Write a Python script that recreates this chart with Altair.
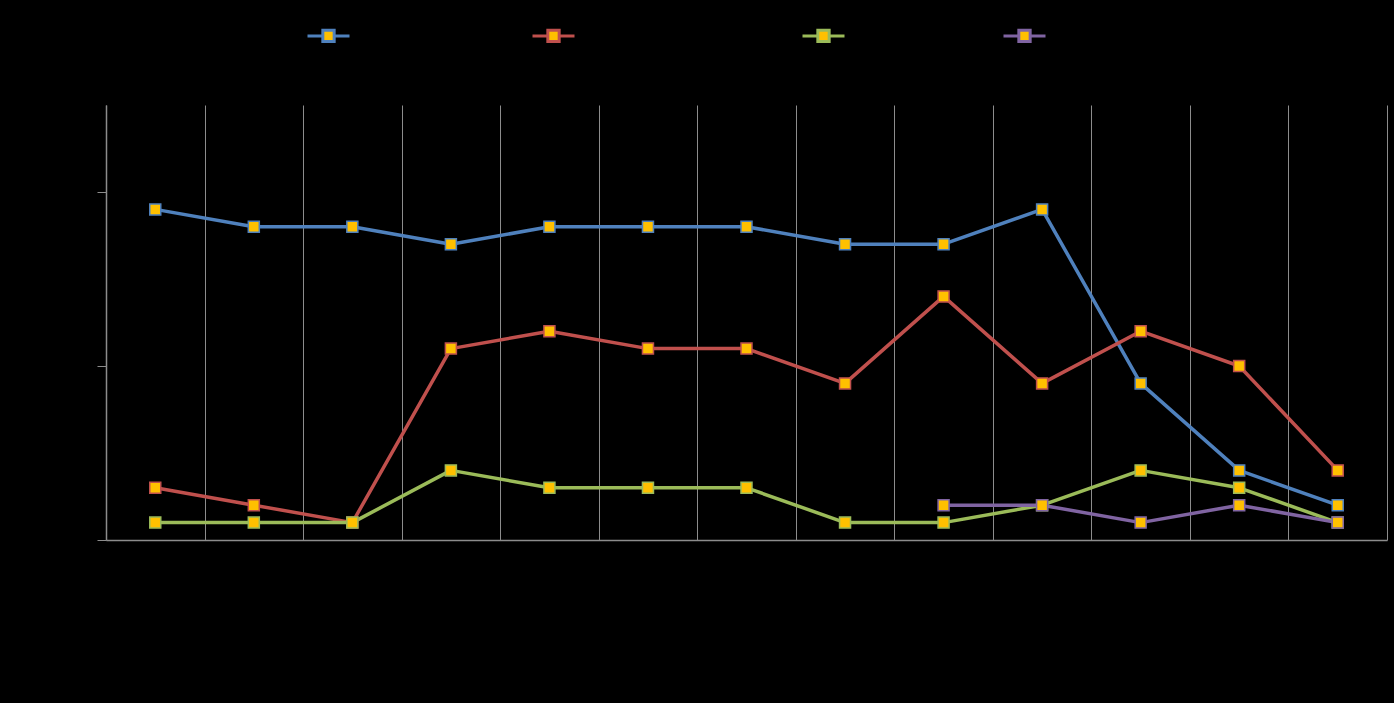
import altair as alt
import pandas as pd

categories = ["P01", "P02", "P03", "P04", "P05", "P06", "P07",
              "P08", "P09", "P10", "P11", "P12", "P13"]
series_names = ["Series 1 label text A", "Series two, label text long",
                "Series three text.", "Series four"]
blue = [19, 18, 18, 17, 18, 18, 18, 17, 17, 19, 9, 4, 2]
red = [3, 2, 1, 11, 12, 11, 11, 9, 14, 9, 12, 10, 4]
green = [1, 1, 1, 4, 3, 3, 3, 1, 1, 2, 4, 3, 1]
purple = [None, None, None, None, None, None, None, None, 2, 2, 1, 2, 1]
colors = ["#4F81BD", "#C0504D", "#9BBB59", "#8064A2"]

rows = []
for name, vals in zip(series_names, [blue, red, green, purple]):
    for c, v in zip(categories, vals):
        if v is not None:
            rows.append({"cat": c, "series": name, "value": v})
df = pd.DataFrame(rows)

legend_path = "M-1,0 H-0.27 M0.27,0 H1 M-0.27,-0.27 H0.27 V0.27 H-0.27 Z"

x_enc = alt.X("cat:N", sort=categories, title=None,
              scale=alt.Scale(type="band", paddingInner=0, paddingOuter=0),
              axis=alt.Axis(tickBand="extent", grid=True, gridColor="#8C8C8C",
                            gridWidth=1, ticks=False, domainColor="#8C8C8C",
                            domainWidth=1.5, labelColor="#000000", labelAngle=0,
                            labelFontSize=12))
y_enc = alt.Y("value:Q", title=None,
              scale=alt.Scale(domain=[0, 25], nice=False),
              axis=alt.Axis(values=[0, 10, 20], grid=False, tickSize=9,
                            tickColor="#8C8C8C", domainColor="#8C8C8C",
                            domainWidth=1.5, labelColor="#000000",
                            labelFontSize=12))
stroke_enc = alt.Stroke(
    "series:N",
    scale=alt.Scale(domain=series_names, range=colors),
    legend=alt.Legend(title=None, orient="none", direction="horizontal",
                      legendX=200, legendY=-92, symbolType=legend_path,
                      symbolSize=1764, symbolStrokeWidth=3,
                      symbolFillColor="#FFC000", labelColor="#000000",
                      labelFontSize=18, labelLimit=500, columnPadding=10,
                      labelOffset=4))

base = alt.Chart(df)
lines = base.mark_line(strokeWidth=3.5, strokeCap="round", strokeJoin="round").encode(
    x=x_enc, y=y_enc, stroke=stroke_enc, detail="series:N")
points = base.mark_point(shape="square", filled=True, fill="#FFC000", size=121,
                         strokeWidth=1.5, opacity=1).encode(
    x=x_enc, y=y_enc, stroke=stroke_enc)

chart = (lines + points).properties(
    width=1281, height=435,
    background="#000000",
    padding={"left": 106, "top": 105, "right": 7, "bottom": 163},
    autosize=alt.AutoSizeParams(type="none"),
).configure_view(stroke=None)

chart.save("out.html", embed_options={"renderer": "svg", "actions": False})
